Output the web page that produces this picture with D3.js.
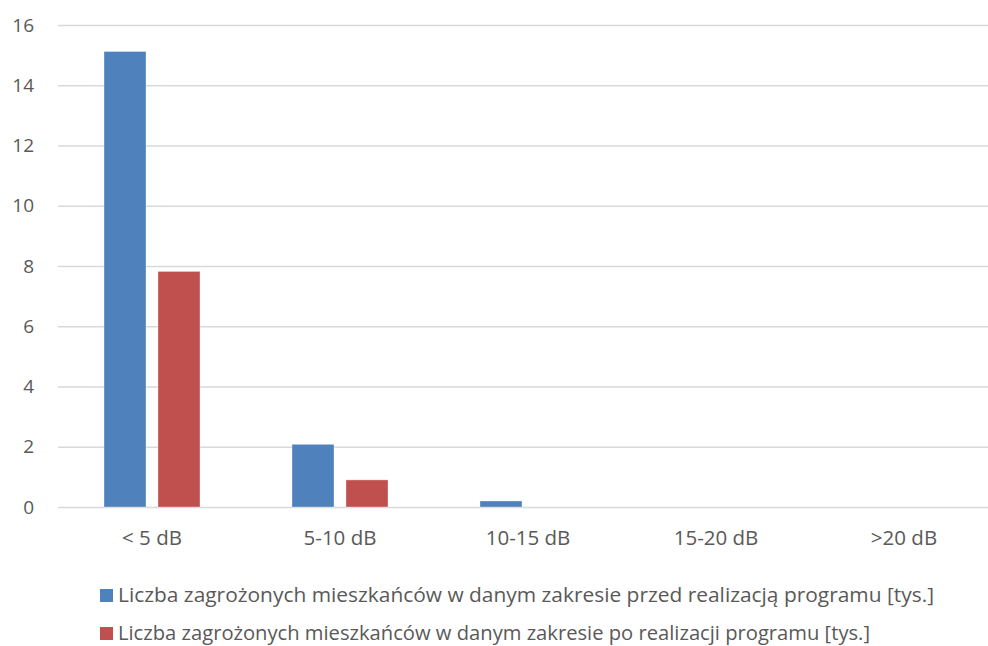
<!DOCTYPE html>
<html>
<head>
<meta charset="utf-8">
<script src="https://cdn.jsdelivr.net/npm/d3@7"></script>
<style>
  body { margin: 0; background: #fff; }
  text { font-family: "Open Sans", "Liberation Sans", sans-serif; fill: #595959; }
</style>
</head>
<body>
<svg id="chart" width="988" height="646"></svg>
<script>
var categories = ["< 5 dB", "5-10 dB", "10-15 dB", "15-20 dB", ">20 dB"];
var seriesNames = [
  "Liczba zagrożonych mieszkańców w danym zakresie przed realizacją programu [tys.]",
  "Liczba zagrożonych mieszkańców w danym zakresie po realizacji programu [tys.]"
];
var beforeValues = [15.12, 2.08, 0.2, 0, 0];
var afterValues = [7.82, 0.9, 0, 0, 0];
var yTicks = [0, 2, 4, 6, 8, 10, 12, 14, 16];
var colors = ["#4F81BD", "#C0504D"];

var svg = d3.select("#chart"),
    plotLeft = 58, plotRight = 998, plotTop = 25, plotBottom = 507;

var x = d3.scaleBand().domain(categories).range([plotLeft, plotRight]);
var y = d3.scaleLinear().domain([0, 16]).range([plotBottom, plotTop]);
var x1 = d3.scaleBand().domain([0, 1]).range([-48, 48]).paddingInner(12 / 54);

// gridlines
svg.append("g")
  .selectAll("line")
  .data(yTicks)
  .enter().append("line")
    .attr("x1", plotLeft)
    .attr("x2", plotRight)
    .attr("y1", function(d) { return y(d) + 0.5; })
    .attr("y2", function(d) { return y(d) + 0.5; })
    .attr("stroke", "#d9d9d9")
    .attr("stroke-width", 1.3);

// y labels
svg.append("g")
  .selectAll("text")
  .data(yTicks)
  .enter().append("text")
    .attr("x", 34)
    .attr("y", function(d) { return y(d); })
    .attr("dy", "0.35em")
    .attr("text-anchor", "end")
    .attr("font-size", 19)
    .text(function(d) { return d; });

// bars
var rows = categories.map(function(c, i) { return {cat: c, vals: [beforeValues[i], afterValues[i]]}; });
svg.append("g")
  .selectAll("g")
  .data(rows)
  .enter().append("g")
    .attr("transform", function(d) { return "translate(" + (x(d.cat) + x.bandwidth() / 2) + ",0)"; })
  .selectAll("rect")
  .data(function(d) { return d.vals.filter(function(v) { return true; }).map(function(v, k) { return {k: k, v: v}; }); })
  .enter().append("rect")
    .attr("x", function(d) { return x1(d.k); })
    .attr("width", x1.bandwidth())
    .attr("y", function(d) { return y(d.v); })
    .attr("height", function(d) { return y(0) - y(d.v); })
    .attr("fill", function(d) { return colors[d.k]; })
    .attr("stroke", function(d) { return d.v > 0 ? "rgba(255,255,255,0.35)" : "none"; })
    .attr("stroke-width", 1);

// x labels
svg.append("g")
  .selectAll("text")
  .data(categories)
  .enter().append("text")
    .attr("x", function(d) { return x(d) + x.bandwidth() / 2; })
    .attr("y", 545)
    .attr("text-anchor", "middle")
    .attr("font-size", 20.5)
    .text(function(d) { return d; });

// legend
var legendWidths = [816, 752];
var legend = svg.append("g")
  .selectAll("g")
  .data(seriesNames)
  .enter().append("g")
    .attr("transform", function(d, i) { return "translate(100," + (602 + i * 38) + ")"; });

legend.append("rect")
    .attr("x", 0)
    .attr("y", -13)
    .attr("width", 13)
    .attr("height", 13)
    .attr("fill", function(d, i) { return colors[i]; });

legend.append("text")
    .attr("x", 18)
    .attr("y", 0)
    .attr("font-size", 20)
    .attr("textLength", function(d, i) { return legendWidths[i]; })
    .attr("lengthAdjust", "spacingAndGlyphs")
    .text(function(d) { return d; });
</script>
</body>
</html>
